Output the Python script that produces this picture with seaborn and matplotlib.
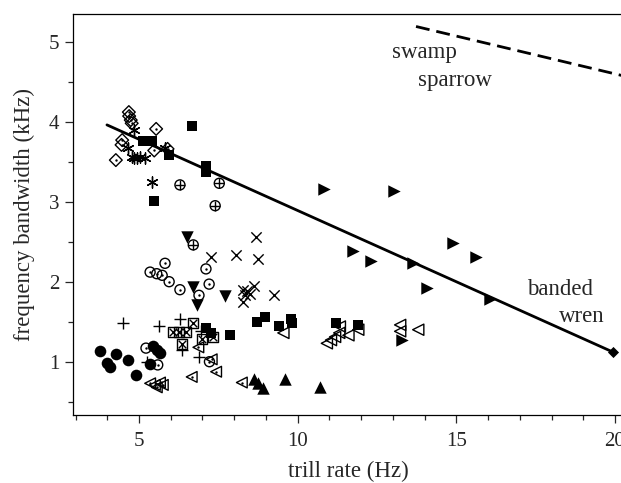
import matplotlib
matplotlib.use("Agg")
import matplotlib.pyplot as plt
import pandas as pd
import seaborn as sns
from matplotlib.ticker import MultipleLocator

sns.set_style("ticks")
plt.rcParams['font.family'] = ['Liberation Serif', 'DejaVu Serif']
plt.rcParams['mathtext.fontset'] = 'stix'

# datos: (trill rate Hz, frequency bandwidth kHz)
diamond_x = [4.68, 4.69, 4.74, 4.77, 5.54, 4.47, 4.45, 4.27, 5.48, 5.90]
diamond_y = [4.12, 4.07, 4.02, 3.98, 3.91, 3.77, 3.71, 3.52, 3.64, 3.66]

aster_x = [4.84, 4.66, 4.79, 4.85, 4.93, 5.19, 5.82, 5.40, 5.02]
aster_y = [3.90, 3.67, 3.56, 3.54, 3.55, 3.54, 3.67, 3.25, 3.56]

sq_x = [5.12, 5.41, 5.95, 6.68, 7.10, 7.10, 5.48,
        7.11, 7.27, 7.87, 8.73, 8.97, 9.42, 9.78, 9.81, 11.20, 11.91]
sq_y = [3.76, 3.76, 3.58, 3.95, 3.45, 3.37, 3.01,
        1.42, 1.36, 1.34, 1.50, 1.56, 1.45, 1.54, 1.49, 1.48, 1.46]

oplus_x = [6.29, 7.53, 7.40, 6.71]
oplus_y = [3.21, 3.23, 2.95, 2.46]

tridown_x = [6.52, 6.71, 7.71, 6.82]
tridown_y = [2.56, 1.93, 1.82, 1.71]

odot_x = [5.82, 5.35, 5.56, 5.73, 5.95, 6.29, 7.11, 6.89, 7.21, 5.22, 5.59, 7.22]
odot_y = [2.23, 2.12, 2.10, 2.08, 2.00, 1.90, 2.16, 1.83, 1.97, 1.17, 0.96, 1.00]

cross_x = [8.69, 7.27, 8.05, 8.76, 8.62, 8.29, 8.41, 8.34, 8.27, 8.50, 9.26]
cross_y = [2.56, 2.31, 2.33, 2.28, 1.95, 1.90, 1.88, 1.83, 1.75, 1.85, 1.83]

plus_x = [4.51, 5.63, 6.29, 6.90, 5.24, 6.95, 6.35]
plus_y = [1.49, 1.45, 1.53, 1.06, 1.00, 1.39, 1.15]

boxx_x = [6.71, 6.08, 6.27, 6.47, 6.35, 6.98, 7.32]
boxx_y = [1.49, 1.37, 1.37, 1.37, 1.22, 1.29, 1.31]

tldot_x = [6.87, 7.29, 6.66, 7.43, 8.24, 5.35, 5.50, 5.66, 5.56, 5.75]
tldot_y = [1.18, 1.03, 0.81, 0.875, 0.74, 0.73, 0.71, 0.74, 0.68, 0.71]

circle_x = [3.77, 4.27, 3.98, 4.09, 4.66, 4.90, 5.45, 5.56, 5.66, 5.35]
circle_y = [1.13, 1.10, 0.99, 0.94, 1.02, 0.84, 1.20, 1.15, 1.11, 0.97]

triup_x = [8.62, 8.76, 8.92, 9.60, 10.70]
triup_y = [0.78, 0.73, 0.67, 0.79, 0.68]

tleft_x = [9.55, 10.92, 11.05, 11.18, 11.31, 11.33, 11.60, 11.91, 13.23, 13.23, 13.80]
tleft_y = [1.36, 1.23, 1.27, 1.31, 1.36, 1.44, 1.33, 1.40, 1.46, 1.38, 1.40]

tright_x = [10.83, 13.04, 11.73, 12.31, 13.64, 14.91, 15.62, 14.07, 16.06, 13.28]
tright_y = [3.16, 3.13, 2.38, 2.26, 2.24, 2.48, 2.31, 1.92, 1.79, 1.27]

fdiam_x = [19.94]
fdiam_y = [1.12]

# rectas de regresion
wren_x = [3.99, 19.94]
wren_y = [3.96, 1.12]
sparrow_x = [13.73, 20.4]
sparrow_y = [5.19, 4.56]

fig = plt.figure(figsize=(6.21, 4.83), dpi=100)
ax = fig.add_axes([73 / 621, 1 - 415 / 483, 551.5 / 621, (415 - 14) / 483])

k = dict(ax=ax, legend=False, zorder=3)
hollow = dict(facecolor='none', edgecolor='black', linewidth=1.0)

sns.scatterplot(x=diamond_x, y=diamond_y, marker='D', s=42, **hollow, **k)
sns.scatterplot(x=diamond_x, y=diamond_y, marker='o', s=3, color='black', linewidth=0, **k)
sns.scatterplot(x=aster_x, y=aster_y, marker=(6, 2, 0), s=65, color='black', edgecolor='black', linewidth=1.0, **k)
sns.scatterplot(x=sq_x, y=sq_y, marker='s', s=55, color='black', linewidth=0, **k)
sns.scatterplot(x=oplus_x, y=oplus_y, marker='o', s=52, **hollow, **k)
sns.scatterplot(x=oplus_x, y=oplus_y, marker='+', s=52, color='black', edgecolor='black', linewidth=1.0, **k)
sns.scatterplot(x=tridown_x, y=tridown_y, marker='v', s=80, color='black', linewidth=0, **k)
sns.scatterplot(x=odot_x, y=odot_y, marker='o', s=52, **hollow, **k)
sns.scatterplot(x=odot_x, y=odot_y, marker='o', s=3, color='black', linewidth=0, **k)
sns.scatterplot(x=cross_x, y=cross_y, marker='x', s=55, color='black', edgecolor='black', linewidth=1.0, **k)
sns.scatterplot(x=plus_x, y=plus_y, marker='+', s=65, color='black', edgecolor='black', linewidth=1.0, **k)
sns.scatterplot(x=boxx_x, y=boxx_y, marker='s', s=52, **hollow, **k)
sns.scatterplot(x=boxx_x, y=boxx_y, marker='x', s=30, color='black', edgecolor='black', linewidth=1.0, **k)
sns.scatterplot(x=tldot_x, y=tldot_y, marker='<', s=60, **hollow, **k)
sns.scatterplot(x=tldot_x, y=tldot_y, marker='o', s=3, color='black', linewidth=0, **k)
sns.scatterplot(x=circle_x, y=circle_y, marker='o', s=70, color='black', linewidth=0, **k)
sns.scatterplot(x=triup_x, y=triup_y, marker='^', s=80, color='black', linewidth=0, **k)
sns.scatterplot(x=tleft_x, y=tleft_y, marker='<', s=65, **hollow, **k)
sns.scatterplot(x=tright_x, y=tright_y, marker='>', s=80, color='black', linewidth=0, **k)
sns.scatterplot(x=fdiam_x, y=fdiam_y, marker='D', s=32, color='black', linewidth=0, **k)

sns.lineplot(x=wren_x, y=wren_y, ax=ax, color='black', linewidth=2.0, zorder=4)
sns.lineplot(x=sparrow_x, y=sparrow_y, ax=ax, color='black', linewidth=2.0,
             linestyle=(0, (5, 2.5)), zorder=4)

fs = 16.5
ax.text(14.0, 4.87, 'swamp', ha='center', va='center', fontsize=fs)
ax.text(14.96, 4.52, 'sparrow', ha='center', va='center', fontsize=fs)
ax.text(18.27, 1.90, 'banded', ha='center', va='center', fontsize=fs)
ax.text(18.96, 1.57, 'wren', ha='center', va='center', fontsize=fs)

ax.set_xlim(2.92, 20.3)
ax.set_ylim(0.334, 5.346)
ax.set_xticks([5, 10, 15, 20])
ax.set_yticks([1, 2, 3, 4, 5])
ax.xaxis.set_minor_locator(MultipleLocator(1))
ax.yaxis.set_minor_locator(MultipleLocator(0.5))
ax.tick_params(which='major', length=6, width=0.9, labelsize=15, direction='out')
ax.tick_params(axis='x', which='major', pad=6)
ax.tick_params(axis='y', which='major', pad=4)
ax.tick_params(which='minor', length=3.5, width=0.9, direction='out')
for sp in ax.spines.values():
    sp.set_linewidth(0.9)
    sp.set_color('black')

ax.set_xlabel('trill rate (Hz)', fontsize=fs, labelpad=7)
ax.set_ylabel('frequency bandwidth (kHz)', fontsize=fs, labelpad=10)

fig.savefig('out.png', dpi=100)
